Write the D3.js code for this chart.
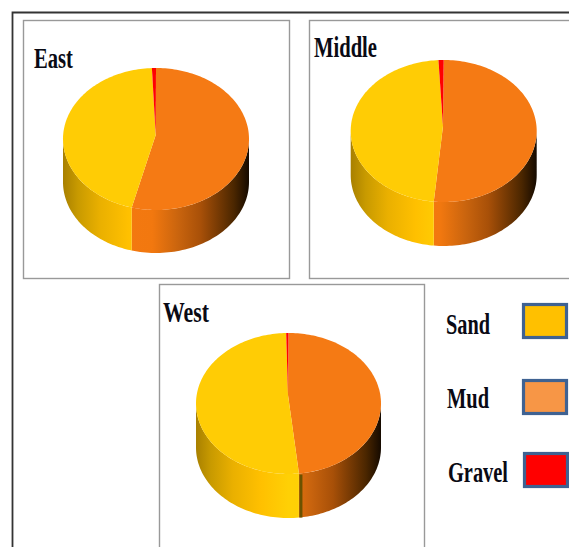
<!DOCTYPE html>
<html><head><meta charset="utf-8">
<script src="https://cdn.jsdelivr.net/npm/d3@7/dist/d3.min.js"></script>
<style>html,body{margin:0;padding:0;background:#fff;overflow:hidden}svg{display:block}text{font-family:"Liberation Serif",serif;font-weight:bold;fill:#0a0a14}</style>
</head><body><svg id="c" width="569" height="547"></svg>
<script>
const regions = ["East", "Middle", "West"];
const components = ["Mud", "Sand", "Gravel"];
const mud = [54.2, 51.7, 48.2];
const sand = [45.1, 47.4, 51.4];
const gravel = [0.7, 0.9, 0.4];
const legendNames = ["Sand", "Mud", "Gravel"];
const legendColors = ["#ffc000", "#f79646", "#ff0000"];

const topColors = {Mud:"#f57a14", Sand:"#ffcc05", Gravel:"#ff0000"};
const sideStops = {
  Sand:[[0,"#a88000"],[.08,"#c89a00"],[.2,"#eab000"],[.35,"#ffc000"],[.5,"#ffd005"],[1,"#ffcc05"]],
  Mud:[[0,"#f57a14"],[.48,"#f2780f"],[.62,"#c9640e"],[.74,"#a85008"],[.92,"#4a2600"],[1,"#150a00"]],
  Gravel:[[0,"#ff0000"],[1,"#800000"]]
};
const panels = [
  {x:23.5,y:20.5,w:266,h:258,cx:156,cy:139,rx:93,ry:71,depth:43,ax:155.7,ay:135,lx:34,ly:68,lw:39,fs:30},
  {x:309.5,y:20.5,w:270,h:258,cx:443.7,cy:131,rx:93,ry:71,depth:44,ax:443,ay:126,lx:314,ly:57,lw:63,fs:30},
  {x:159.5,y:284.5,w:265,h:270,cx:288.5,cy:403.5,rx:92.5,ry:70.5,depth:44,ax:288,ay:395,lx:163,ly:322,lw:46,fs:30,seam:true}
];
const legendPos = [
  {x:523.5,y:304.5,w:43,h:33,tx:446,ty:334,tw:44},
  {x:523.5,y:380.5,w:43,h:33,tx:447,ty:408,tw:42},
  {x:524.5,y:453.5,w:43,h:33,tx:448,ty:482,tw:60}
];

const svg = d3.select("#c");
const defs = svg.append("defs");
svg.append("path").attr("d","M12.5,547V12.5H569").attr("fill","none").attr("stroke","#333").attr("stroke-width",1.8);

const pie = d3.pie().sort(null).startAngle(0).endAngle(2*Math.PI);
const front0 = Math.PI/2, front1 = 3*Math.PI/2;

regions.forEach((name,i)=>{
  const p = panels[i];
  const g = svg.append("g");
  g.append("rect").attr("x",p.x).attr("y",p.y).attr("width",p.w).attr("height",p.h)
    .attr("fill","#fff").attr("stroke","#999").attr("stroke-width",1.4);
  g.append("text").attr("x",p.lx).attr("y",p.ly).attr("font-size",p.fs)
    .attr("textLength",p.lw).attr("lengthAdjust","spacingAndGlyphs").text(name);

  const px = a=>p.cx+p.rx*Math.sin(a), py = a=>p.cy-p.ry*Math.cos(a);
  const arcs = pie([mud[i],sand[i],gravel[i]]).map((d,k)=>({...d,comp:components[k]}));

  const xs = d3.scaleLinear().domain([0,1]).range([p.cx-p.rx,p.cx+p.rx]);
  arcs.forEach(d=>{
    const a0=Math.max(d.startAngle,front0), a1=Math.min(d.endAngle,front1);
    if(a1<=a0) return;
    const id=`side-${i}-${d.comp}`;
    const lg=defs.append("linearGradient").attr("id",id).attr("gradientUnits","userSpaceOnUse")
      .attr("x1",xs(0)).attr("x2",xs(1)).attr("y1",0).attr("y2",0);
    sideStops[d.comp].forEach(s=>lg.append("stop").attr("offset",s[0]).attr("stop-color",s[1]));
    const pts=d3.range(0,61).map(t=>a0+(a1-a0)*t/60);
    const path=d3.path();
    pts.forEach((a,n)=>n?path.lineTo(px(a),py(a)):path.moveTo(px(a),py(a)));
    pts.slice().reverse().forEach(a=>path.lineTo(px(a),py(a)+p.depth));
    path.closePath();
    g.append("path").attr("d",path.toString()).attr("fill",`url(#${id})`);
  });
  if(p.seam){
    const a=arcs[0].endAngle;
    g.append("line").attr("x1",px(a)+2).attr("x2",px(a)+2).attr("y1",py(a)+1).attr("y2",py(a)+p.depth)
      .attr("stroke","#6b5200").attr("stroke-width",3);
  }
  arcs.forEach(d=>{
    const n=Math.max(4,Math.ceil((d.endAngle-d.startAngle)*40));
    const path=d3.path();
    path.moveTo(p.ax,p.ay);
    d3.range(0,n+1).forEach(t=>{const a=d.startAngle+(d.endAngle-d.startAngle)*t/n;path.lineTo(px(a),py(a));});
    path.closePath();
    g.append("path").attr("d",path.toString()).attr("fill",topColors[d.comp]);
  });
});

legendNames.forEach((n,i)=>{
  const l=legendPos[i];
  svg.append("rect").attr("x",l.x).attr("y",l.y).attr("width",l.w).attr("height",l.h)
    .attr("fill",legendColors[i]).attr("stroke","#3f6292").attr("stroke-width",3.2);
  svg.append("text").attr("x",l.tx).attr("y",l.ty).attr("font-size",30)
    .attr("textLength",l.tw).attr("lengthAdjust","spacingAndGlyphs").text(n);
});
</script></body></html>
